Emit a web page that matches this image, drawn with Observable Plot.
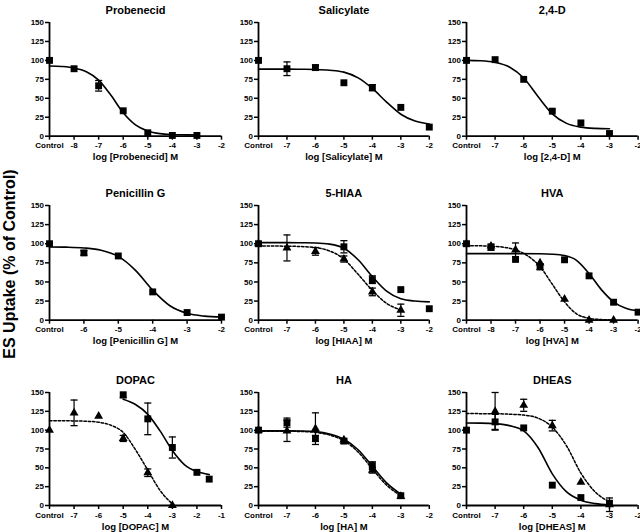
<!DOCTYPE html>
<html><head><meta charset="utf-8">
<script src="https://cdn.jsdelivr.net/npm/d3@7"></script>
<script src="https://cdn.jsdelivr.net/npm/@observablehq/plot@0.6"></script>
<style>
body{margin:0;background:#fff;overflow:hidden}
#chart{position:relative;width:640px;height:532px;overflow:hidden;font-family:"Liberation Sans",Arial,sans-serif;background:#fff}
#ylab{position:absolute;left:9.5px;top:264px;transform:translate(-50%,-50%) rotate(-90deg);font-weight:bold;font-size:16px;white-space:nowrap;color:#000}
</style></head><body><div id="chart"><div id="ylab">ES Uptake (% of Control)</div></div>
<script>
// ---------- shared text / ticks ----------
const yTicks = [0, 25, 50, 75, 100, 125, 150];
const titles = ["Probenecid","Salicylate","2,4-D","Penicillin G","5-HIAA","HVA","DOPAC","HA","DHEAS"];
const xLabels = ["log [Probenecid] M","log [Salicylate] M","log [2,4-D] M","log [Penicillin G] M","log [HIAA] M","log [HVA] M","log [DOPAC] M","log [HA] M","log [DHEAS] M"];
const ticksFrom8 = ["Control","-8","-7","-6","-5","-4","-3","-2"];
const ticksFrom7 = ["Control","-7","-6","-5","-4","-3","-2"];
const ticksFrom6 = ["Control","-6","-5","-4","-3","-2"];
const ticksDopac = ["Control","-7","-6","-5","-4","-3","-2","-1"];

// ---------- Probenecid (Control = -9) ----------
const probDose = [-9,-8,-7,-6,-5,-4,-3];
const probUptake = [100,89,66.5,33.5,4.5,1,1];
const probErr = [0,0,7,0,0,0,0];
const probFitDose = [-9,-8.5,-8,-7.5,-7,-6.5,-6,-5.5,-5,-4.5,-4,-3.5,-3];
const probFit = [92.7,92,90,85,74,54,31,15,7,3.4,2.2,1.8,1.6];

// ---------- Salicylate (Control = -8) ----------
const salDose = [-8,-7,-6,-5,-4,-3,-2];
const salUptake = [100,89,90.5,70.5,64,38,12];
const salErr = [0,9,3.5,0,4,0,0];
const salFitDose = [-8,-7.5,-7,-6.5,-6,-5.5,-5,-4.5,-4,-3.5,-3,-2.5,-2];
const salFit = [88.5,88.5,88.5,88.3,88,87,84.5,77,63,45,29,20,16];

// ---------- 2,4-D ----------
const dDose = [-8,-7,-6,-5,-4,-3];
const dUptake = [100,101,75,33,17.5,3.5];
const dErr = [0,0,0,0,0,0];
const dFitDose = [-8,-7.5,-7,-6.5,-6,-5.5,-5,-4.5,-4,-3.5,-3];
const dFit = [100,99.5,97.4,91.3,76.7,52.4,29.5,16.9,12,10.3,9.8];

// ---------- Penicillin G (Control = -7) ----------
const penDose = [-7,-6,-5,-4,-3,-2];
const penUptake = [100,88,84,37,10,4];
const penErr = [0,3,0,0,0,0];
const penFitDose = [-7,-6.5,-6,-5.5,-5,-4.5,-4,-3.5,-3,-2.5,-2];
const penFit = [95.8,95.5,94.5,91.6,83.4,65.2,39.3,18.9,9,5.3,4.1];

// ---------- 5-HIAA ----------
const hiaaSqDose = [-8,-5,-4,-3,-2];
const hiaaSqUptake = [100,96,53,40,15];
const hiaaSqErr = [0,8,5,0,0];
const hiaaTriDose = [-8,-7,-6,-5,-4,-3];
const hiaaTriUptake = [100,94.5,90,80,37,13];
const hiaaTriErr = [0,17,5,4,5,8];
const hiaaSqFitDose = [-8,-7,-6.5,-6,-5.5,-5,-4.5,-4,-3.5,-3,-2.5,-2];
const hiaaSqFit = [101.5,101.5,101.3,101,99.5,94,79,57,38,28,25,24];
const hiaaTriFitDose = [-8,-7,-6.5,-6,-5.5,-5,-4.5,-4,-3.5,-3];
const hiaaTriFit = [97,96.8,96.3,95,90.5,80,60,39,22,13.5];

// ---------- HVA (Control = -9) ----------
const hvaSqDose = [-9,-8,-7,-6,-5,-4,-3,-2];
const hvaSqUptake = [100,95.5,79.5,70,79,58,23.5,10.5];
const hvaSqErr = [0,4,0,4,0,0,0,0];
const hvaTriDose = [-9,-8,-7,-6,-5,-4,-3];
const hvaTriUptake = [100,97,92,75,27.5,0,0];
const hvaTriErr = [0,0,9,0,0,0,0];
const hvaSqFitDose = [-9,-8,-7,-6,-5.5,-5,-4.5,-4,-3.5,-3,-2.5,-2];
const hvaSqFit = [87,87,87,86.8,86.3,84.5,78,61,40,24,15.5,12];
const hvaTriFitDose = [-9,-8.5,-8,-7.5,-7,-6.5,-6,-5.5,-5,-4.5,-4,-3.5,-3];
const hvaTriFit = [97.5,97.3,96.8,95.5,92,84,70,47,24,8,2.5,0.8,0.3];

// ---------- DOPAC (Control = -8) ----------
const dopSqDose = [-5,-4,-3,-2,-1.5];
const dopSqUptake = [147,115,77,44,35];
const dopSqErr = [4,21,14,0,0];
const dopTriDose = [-8,-7,-6,-5,-4,-3];
const dopTriUptake = [100,123,118.5,89,43.5,0];
const dopTriErr = [0,17,0,4,5,0];
const dopSqFitDose = [-5,-4.5,-4,-3.5,-3,-2.5,-2,-1.5];
const dopSqFit = [141,134,121,99,73,54,45,41];
const dopTriFitDose = [-8,-7,-6.5,-6,-5.5,-5,-4.5,-4,-3.5,-3];
const dopTriFit = [112.5,112.3,111.8,110.5,106.5,97,74,47,20,2];

// ---------- HA ----------
const haSqDose = [-8,-7,-6,-5,-4,-3];
const haSqUptake = [100,110,89,85.5,53,13];
const haSqErr = [0,6,4,3,5,0];
const haTriDose = [-8,-7,-6,-5,-4,-3];
const haTriUptake = [100,99,102,87,47,12];
const haTriErr = [0,14,21,0,4,0];
const haSqFitDose = [-8,-7,-6.5,-6,-5.5,-5,-4.5,-4,-3.5,-3];
const haSqFit = [99,99,98.8,98,95,88,74,52,30,15];
const haTriFitDose = [-8,-7,-6.5,-6,-5.5,-5,-4.5,-4,-3.5,-3];
const haTriFit = [98.5,98.5,98.2,97,93.5,86,71,48.5,27,13];

// ---------- DHEAS ----------
const dheSqDose = [-8,-7,-6,-5,-4,-3];
const dheSqUptake = [100,111,103,27,10.5,3];
const dheSqErr = [0,10,0,0,0,0];
const dheTriDose = [-7,-6,-5,-4,-3];
const dheTriUptake = [125,133,106,31,1];
const dheTriErr = [25,8,7,0,9];
const dheSqFitDose = [-8,-7.5,-7,-6.5,-6,-5.5,-5,-4.5,-4,-3.5,-3];
const dheSqFit = [109.5,109.3,108.5,106,99,77,42,18,7,2.5,1];
const dheTriFitDose = [-8,-7,-6.5,-6,-5.5,-5,-4.5,-4,-3.5,-3];
const dheTriFit = [122,121.8,121.2,120,116,104,79,43,18,5];

// ---------- assemble ----------
const panels = [
  {ticks: ticksFrom8, sq: [probDose, probUptake, probErr], sqFit: [probFitDose, probFit]},
  {ticks: ticksFrom7, sq: [salDose, salUptake, salErr], sqFit: [salFitDose, salFit]},
  {ticks: ticksFrom7, sq: [dDose, dUptake, dErr], sqFit: [dFitDose, dFit]},
  {ticks: ticksFrom6, sq: [penDose, penUptake, penErr], sqFit: [penFitDose, penFit]},
  {ticks: ticksFrom7, sq: [hiaaSqDose, hiaaSqUptake, hiaaSqErr], sqFit: [hiaaSqFitDose, hiaaSqFit],
     tri: [hiaaTriDose, hiaaTriUptake, hiaaTriErr], triFit: [hiaaTriFitDose, hiaaTriFit]},
  {ticks: ticksFrom8, sq: [hvaSqDose, hvaSqUptake, hvaSqErr], sqFit: [hvaSqFitDose, hvaSqFit],
     tri: [hvaTriDose, hvaTriUptake, hvaTriErr], triFit: [hvaTriFitDose, hvaTriFit]},
  {ticks: ticksDopac, sq: [dopSqDose, dopSqUptake, dopSqErr], sqFit: [dopSqFitDose, dopSqFit],
     tri: [dopTriDose, dopTriUptake, dopTriErr], triFit: [dopTriFitDose, dopTriFit]},
  {ticks: ticksFrom7, sq: [haSqDose, haSqUptake, haSqErr], sqFit: [haSqFitDose, haSqFit],
     tri: [haTriDose, haTriUptake, haTriErr], triFit: [haTriFitDose, haTriFit]},
  {ticks: ticksFrom7, sq: [dheSqDose, dheSqUptake, dheSqErr], sqFit: [dheSqFitDose, dheSqFit],
     tri: [dheTriDose, dheTriUptake, dheTriErr], triFit: [dheTriFitDose, dheTriFit]}
];

// layout of the grid (pixel frame of each panel's plotting area)
const colLeft = [49, 257.5, 465.7], colRight = [221, 428.3, 637.3];
const rowTop = [22, 205, 391.7], rowBottom = [135.7, 319.7, 504.7];

const capSymbol = {draw(ctx, size) { const w = Math.sqrt(size); ctx.moveTo(-w / 2, 0); ctx.lineTo(w / 2, 0); }};

function pts(arr) { return arr[0].map((x, k) => ({x, y: arr[1][k], e: arr[2] ? arr[2][k] : 0})); }

function errorMarks(arr) {
  const d = pts(arr).filter(p => p.e > 0);
  return [
    Plot.ruleX(d, {x: "x", y1: p => p.y - p.e, y2: p => Math.min(150, p.y + p.e), stroke: "black", strokeWidth: 1.2}),
    Plot.dot(d, {x: "x", y: p => p.y - p.e, symbol: capSymbol, r: 4, stroke: "black", strokeWidth: 1.3, fill: "none"}),
    Plot.dot(d.filter(p => p.y + p.e <= 150), {x: "x", y: p => p.y + p.e, symbol: capSymbol, r: 4, stroke: "black", strokeWidth: 1.3, fill: "none"})
  ];
}

const chart = document.getElementById("chart");
panels.forEach((cfg, i) => {
  const col = i % 3, row = Math.floor(i / 3);
  const ml = 40, mr = 16, mt = 26, mb = 32;
  const pw = colRight[col] - colLeft[col], ph = rowBottom[row] - rowTop[row];
  const tickPos = cfg.ticks.map(t => t === "Control" ? +cfg.ticks[1] - 1 : +t);
  const ctrl = tickPos[0];
  const labelOf = new Map(tickPos.map((p, k) => [p, cfg.ticks[k]]));
  const marks = [
    Plot.ruleY([0], {stroke: "black", strokeWidth: 1.8}),
    Plot.ruleX([ctrl], {stroke: "black", strokeWidth: 1.8}),
    Plot.axisX(tickPos, {tickFormat: d => labelOf.get(d), tickSize: 4, tickPadding: 2.5, strokeWidth: 1.5, label: null}),
    Plot.axisY(yTicks, {tickSize: 4, tickPadding: 1.5, strokeWidth: 1.5, label: null}),
    Plot.text([titles[i]], {text: d => d, frameAnchor: "top", dy: -16.5, fontSize: 11, fontWeight: "bold", fill: "black"}),
    Plot.text([xLabels[i]], {text: d => d, frameAnchor: "bottom", lineAnchor: "top", dy: 17.5, fontSize: 9.5, fontWeight: "bold", fill: "black"})
  ];
  if (cfg.triFit) marks.push(Plot.line(pts(cfg.triFit), {x: "x", y: "y", curve: "monotone-x", stroke: "black", strokeWidth: 1.5, strokeDasharray: "2.5,1.8"}));
  marks.push(Plot.line(pts(cfg.sqFit), {x: "x", y: "y", curve: "monotone-x", stroke: "black", strokeWidth: 1.6}));
  if (cfg.tri) {
    marks.push(...errorMarks(cfg.tri));
    marks.push(Plot.dot(pts(cfg.tri), {x: "x", y: "y", symbol: "triangle", r: 3.3, fill: "black"}));
  }
  marks.push(...errorMarks(cfg.sq));
  marks.push(Plot.dot(pts(cfg.sq), {x: "x", y: "y", symbol: "square", r: 3.9, fill: "black"}));

  const svg = Plot.plot({
    width: ml + pw + mr, height: mt + ph + mb,
    marginLeft: ml, marginRight: mr, marginTop: mt, marginBottom: mb,
    x: {domain: [ctrl, tickPos[tickPos.length - 1]]},
    y: {domain: [0, 150]},
    style: {background: "transparent", fontFamily: "'Liberation Sans', Arial, sans-serif", fontSize: "8px", fontWeight: "bold", color: "black", overflow: "visible"},
    marks
  });
  svg.style.position = "absolute";
  svg.style.left = (colLeft[col] - ml) + "px";
  svg.style.top = (rowTop[row] - mt) + "px";
  svg.style.maxWidth = "none";
  chart.appendChild(svg);
});
</script></body></html>
